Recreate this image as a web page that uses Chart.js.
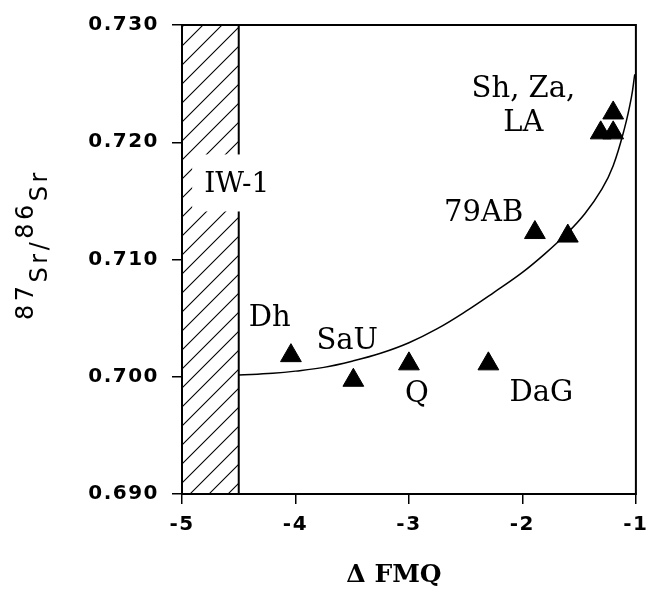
<!DOCTYPE html>
<html>
<head>
<meta charset="utf-8">
<script src="https://cdn.jsdelivr.net/npm/chart.js@4/dist/chart.umd.min.js"></script>
<style>
  html, body { margin: 0; padding: 0; background: #fff; }
  #wrap { width: 656px; height: 594px; }
</style>
</head>
<body>
<div id="wrap"><canvas id="chart"></canvas></div>
<script>
/* 87Sr/86Sr vs Δ FMQ — scatter with model curve and IW-1 hatched band */

// sample points (triangles)
const ptX = [-4.04, -3.49, -3.00, -2.30, -1.89, -1.60, -1.20, -1.31, -1.20];
const ptY = [0.7018, 0.6997, 0.7011, 0.7011, 0.7123, 0.7120, 0.7225, 0.7208, 0.7208];

// model curve
const curveX = [-4.5, -4.2, -4.0, -3.75, -3.5, -3.25, -3.0, -2.75, -2.5, -2.25, -2.0, -1.8, -1.6, -1.45, -1.3, -1.2, -1.1, -1.04, -1.01];
const curveY = [0.70014, 0.7003, 0.70048, 0.7008, 0.70133, 0.7020, 0.7029, 0.7041, 0.70557, 0.7072, 0.7089, 0.7105, 0.7123, 0.7139, 0.7160, 0.7180, 0.7212, 0.7238, 0.7258];

// IW-1 band outline
const bandX = [-5, -5, -4.5, -4.5];
const bandY = [0.690, 0.730, 0.730, 0.690];

// labels
const labelText = ["Sh, Za,", "LA", "79AB", "Dh", "SaU", "Q", "DaG"];
const labelX    = [-1.991, -1.991, -2.342, -4.228, -3.544, -2.930, -1.833];
const labelY    = [0.72446, 0.72158, 0.71394, 0.70495, 0.70300, 0.69851, 0.69859];
const bandLabel = "IW-1";
const bandLabelAt = [-4.518, 0.7164];

const xTicks = [-5, -4, -3, -2, -1];
const yTicks = [0.690, 0.700, 0.710, 0.720, 0.730];

const xy = (xs, ys) => xs.map((x, i) => ({ x, y: ys[i] }));

/* ── hatch pattern ── */
function hatch() {
  const s = 19;
  const c = document.createElement("canvas");
  c.width = s; c.height = s;
  const g = c.getContext("2d");
  g.strokeStyle = "#000";
  g.lineWidth = 1.1;
  g.beginPath();
  g.moveTo(0, s); g.lineTo(s, 0);
  g.moveTo(-2, 2); g.lineTo(2, -2);
  g.moveTo(s - 2, s + 2); g.lineTo(s + 2, s - 2);
  g.stroke();
  return g.createPattern(c, "repeat");
}

const SERIF = "'DejaVu Serif', serif";
const SANS  = "'DejaVu Sans', sans-serif";

/* ── text / frame plugin ── */
const decor = {
  id: "decor",
  beforeDraw(chart) { chart.ctx.letterSpacing = "1.5px"; },
  beforeDatasetsDraw(chart) { chart.ctx.letterSpacing = "0px"; },
  afterDraw(chart) {
    const { ctx, chartArea: a, scales: { x, y } } = chart;
    ctx.save();
    ctx.letterSpacing = "0px";

    // frame
    ctx.strokeStyle = "#000";
    ctx.lineWidth = 2;
    ctx.strokeRect(a.left, a.top, a.right - a.left, a.bottom - a.top);

    // IW-1 label on white box
    ctx.font = `28px ${SERIF}`;
    ctx.textAlign = "center";
    ctx.textBaseline = "middle";
    const bx = x.getPixelForValue(bandLabelAt[0]);
    const by = y.getPixelForValue(bandLabelAt[1]);
    const w = ctx.measureText(bandLabel).width;
    ctx.fillStyle = "#fff";
    ctx.fillRect(bx - w / 2 - 12, by - 30, w + 25, 57);
    ctx.fillStyle = "#000";
    ctx.fillText(bandLabel, bx, by);

    // point labels
    ctx.font = `29px ${SERIF}`;
    labelText.forEach((t, i) => {
      ctx.fillText(t, x.getPixelForValue(labelX[i]), y.getPixelForValue(labelY[i]));
    });

    // x title
    ctx.font = `bold 25px ${SERIF}`;
    ctx.textBaseline = "alphabetic";
    ctx.fillText("Δ FMQ", 394, 582);

    // y title, rotated, with raised mass numbers
    ctx.translate(47, 320);
    ctx.rotate(-Math.PI / 2);
    ctx.font = `24px ${SANS}`;
    ctx.letterSpacing = "3.5px";
    ctx.textAlign = "left";
    let cx = 0;
    [["87", -14], ["Sr/", 0], ["86", -14], ["Sr", 0]].forEach(([t, dy]) => {
      ctx.fillText(t, cx, dy);
      cx += ctx.measureText(t).width;
    });
    ctx.restore();
  },
};

new Chart(document.getElementById("chart"), {
  data: {
    datasets: [
      {
        type: "scatter",
        data: xy(ptX, ptY),
        pointStyle: "triangle",
        pointRadius: 12,
        pointHoverRadius: 12,
        backgroundColor: "#000",
        borderColor: "#000",
        borderWidth: 1,
      },
      {
        type: "line",
        data: xy(curveX, curveY),
        borderColor: "#000",
        borderWidth: 1.5,
        pointRadius: 0,
        tension: 0.4,
        fill: false,
      },
      {
        type: "line",
        data: xy(bandX, bandY),
        borderColor: "#000",
        borderWidth: 2,
        pointRadius: 0,
        tension: 0,
        fill: "start",
        backgroundColor: hatch(),
      },
    ],
  },
  options: {
    responsive: true,
    maintainAspectRatio: false,
    animation: false,
    events: [],
    layout: { padding: { top: 23, right: 18, left: 0, bottom: 0 } },
    plugins: { legend: { display: false }, tooltip: { enabled: false } },
    scales: {
      x: {
        type: "linear",
        min: -5, max: -1,
        afterBuildTicks: s => { s.ticks = xTicks.map(v => ({ value: v })); },
        afterFit: s => { s.height = 100; },
        ticks: {
          color: "#000",
          font: { family: SANS, size: 20, weight: "bold" },
          padding: 9,
          callback: v => String(v),
        },
        grid: { drawOnChartArea: false, tickLength: 10, color: "#000", lineWidth: 1.5 },
        border: { display: true, color: "#000", width: 2 },
      },
      y: {
        type: "linear",
        min: 0.690, max: 0.730,
        afterBuildTicks: s => { s.ticks = yTicks.map(v => ({ value: v })); },
        afterFit: s => { s.width = 182; },
        ticks: {
          color: "#000",
          font: { family: SANS, size: 20, weight: "bold" },
          padding: 13,
          callback: v => v.toFixed(3),
        },
        grid: { drawOnChartArea: false, tickLength: 10, color: "#000", lineWidth: 1.5 },
        border: { display: true, color: "#000", width: 2 },
      },
    },
  },
  plugins: [decor],
});
</script>
</body>
</html>
